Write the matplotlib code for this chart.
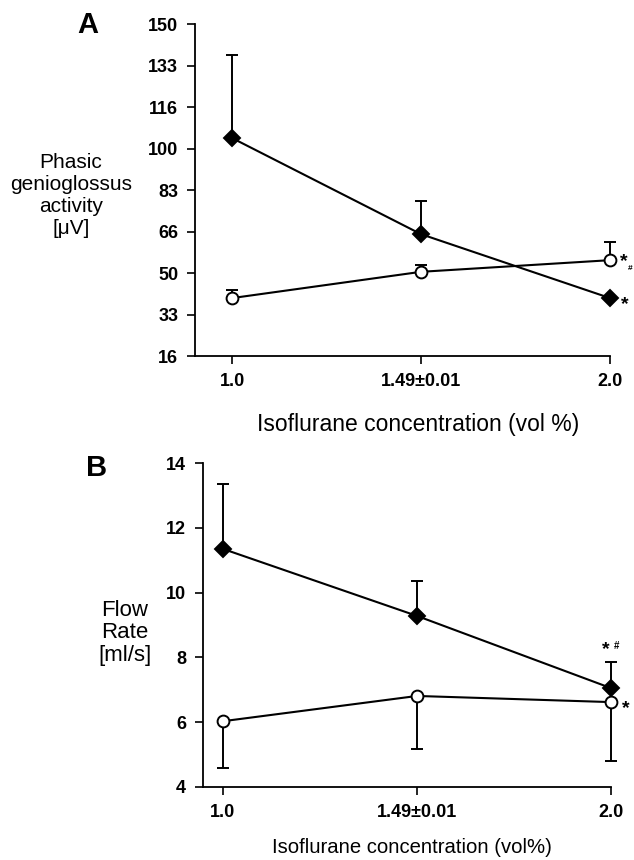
import matplotlib.pyplot as plt
import numpy as np

plt.rcParams['font.family'] = ['Liberation Sans', 'DejaVu Sans']

x_labels = ["1.0", "1.49\u00b10.01", "2.0"]

# panel A: phasic genioglossus activity [uV]
a_diamond = [104.0, 65.2, 39.4]
a_diamond_err = [33.5, 13.4, 0.0]
a_circle = [39.4, 50.0, 54.7]
a_circle_err = [3.2, 2.7, 7.3]
a_ticks = np.linspace(16, 150, 9)
a_ticklabels = ["16", "33", "50", "66", "83", "100", "116", "133", "150"]

# panel B: flow rate [ml/s]
b_diamond = [11.35, 9.28, 7.05]
b_diamond_err = [2.0, 1.08, 0.8]
b_circle = [6.03, 6.81, 6.62]
b_circle_err = [1.44, 1.64, 1.82]
b_ticks = [4, 6, 8, 10, 12, 14]

fig = plt.figure(figsize=(6.34, 8.6), dpi=100)
axA = fig.add_axes([0.3076, 0.586, 0.6545, 0.386])
axB = fig.add_axes([0.320, 0.0849, 0.644, 0.3767])

xs = np.arange(3)


def style(ax):
    for s in ["top", "right"]:
        ax.spines[s].set_visible(False)
    for s in ["left", "bottom"]:
        ax.spines[s].set_linewidth(1.3)
    ax.tick_params(direction="out", length=6, width=1.2, pad=6)
    ax.set_xticks(xs)
    ax.set_xticklabels(x_labels, fontsize=13, fontweight="bold")
    for lab in ax.get_yticklabels():
        lab.set_fontweight("bold")
        lab.set_fontsize(13)


def series(ax, y, err, up, marker, face, ms):
    zero = np.zeros(len(err))
    yerr = [zero, err] if up else [err, zero]
    ax.errorbar(xs, y, yerr=yerr, fmt="none", ecolor="black", elinewidth=1.4,
                capsize=4, capthick=1.4, clip_on=False, zorder=2)
    ax.plot(xs, y, color="black", lw=1.5, marker=marker, ms=ms,
            mfc=face, mec="black", mew=1.4, clip_on=False, zorder=3)


# panel A
series(axA, a_diamond, a_diamond_err, True, "D", "black", 8)
series(axA, a_circle, a_circle_err, True, "o", "white", 8.5)
axA.set_xlim(-0.196, 2.0)
axA.set_ylim(16, 150)
axA.set_yticks(a_ticks)
axA.set_yticklabels(a_ticklabels)
style(axA)
fig.text(0.139, 0.987, "A", fontsize=21, fontweight="bold", ha="center", va="top")
fig.text(0.112, 0.773, "Phasic\ngenioglossus\nactivity\n[\u03bcV]", fontsize=15,
         ha="center", va="center", linespacing=1.2)
fig.text(0.66, 0.506, "Isoflurane concentration (vol %)", fontsize=16.5,
         ha="center", va="center")
axA.annotate("*", (2, a_circle[2]), xytext=(7, -1), textcoords="offset points",
             fontsize=14, fontweight="bold", va="center", annotation_clip=False)
axA.annotate("#", (2, a_circle[2]), xytext=(13, -6), textcoords="offset points",
             fontsize=6, fontweight="bold", va="center", annotation_clip=False)
axA.annotate("*", (2, a_diamond[2]), xytext=(8, -5),
             textcoords="offset points", fontsize=14, fontweight="bold",
             va="center", annotation_clip=False)

# panel B
series(axB, b_diamond, b_diamond_err, True, "D", "black", 8)
series(axB, b_circle, b_circle_err, False, "o", "white", 8.5)
axB.set_xlim(-0.103, 2.0)
axB.set_ylim(4, 14)
axB.set_yticks(b_ticks)
style(axB)
fig.text(0.153, 0.472, "B", fontsize=21, fontweight="bold", ha="center", va="top")
fig.text(0.197, 0.264, "Flow\nRate\n[ml/s]", fontsize=16, ha="center",
         va="center", linespacing=1.1)
fig.text(0.65, 0.014, "Isoflurane concentration (vol%)", fontsize=14.6,
         ha="center", va="center")
axB.annotate("*", (2, b_diamond[2] + b_diamond_err[2]), xytext=(-4, 9),
             textcoords="offset points", fontsize=14, fontweight="bold",
             ha="center", va="center", annotation_clip=False)
axB.annotate("#", (2, b_diamond[2] + b_diamond_err[2]), xytext=(4, 12),
             textcoords="offset points", fontsize=7, fontweight="bold",
             ha="center", va="center", annotation_clip=False)
axB.annotate("*", (2, b_circle[2]), xytext=(8, -5), textcoords="offset points",
             fontsize=14, fontweight="bold", va="center", annotation_clip=False)

fig.savefig("out.png", dpi=100)
